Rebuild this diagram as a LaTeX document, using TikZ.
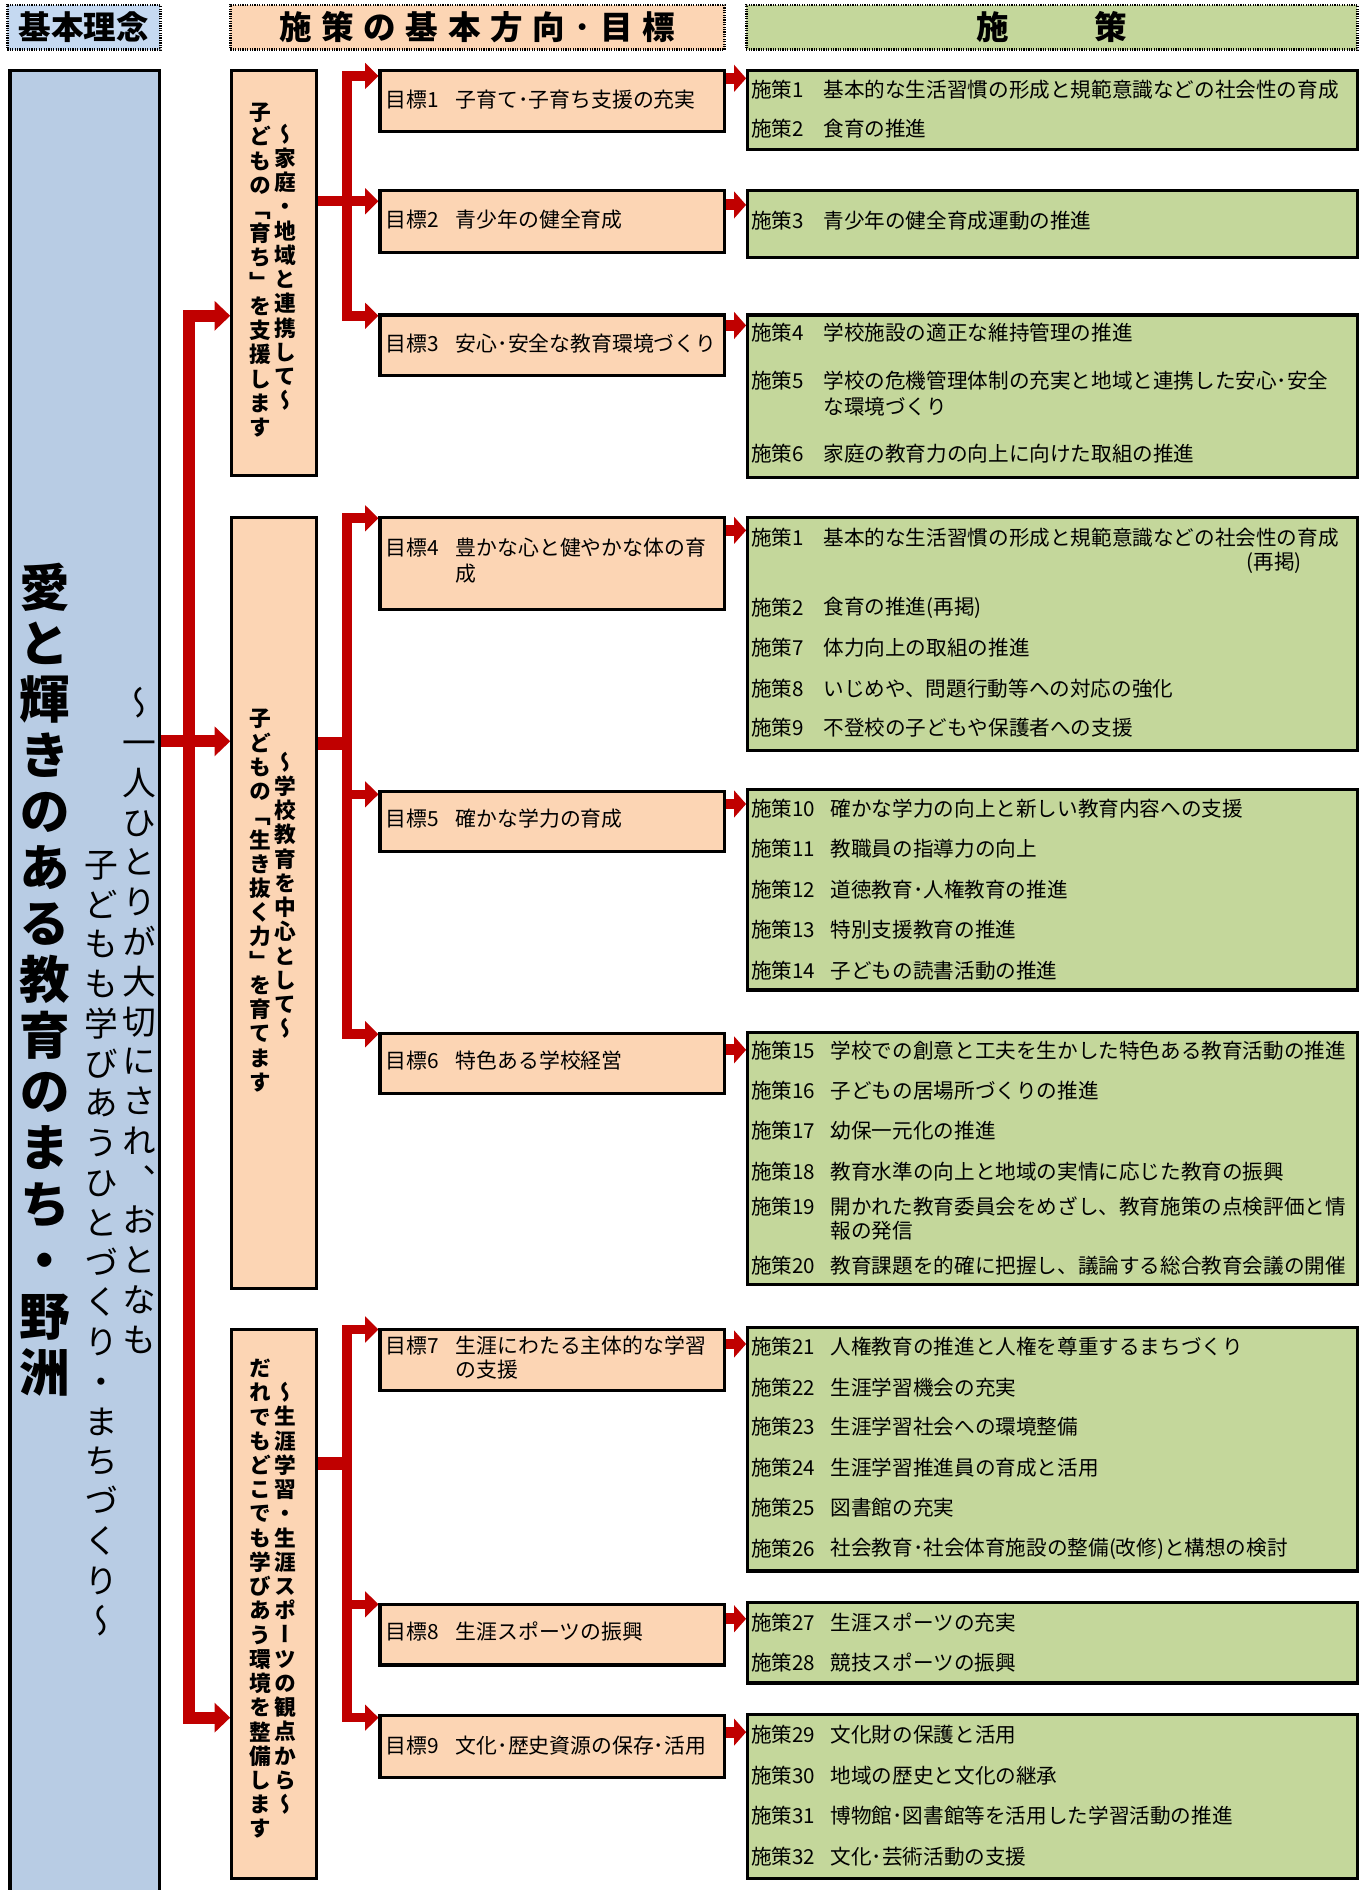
\documentclass[tikz,border=0pt]{standalone}
\usepackage{fontspec}
\setmainfont{Noto Sans CJK JP}
\newfontfamily\jpv[RawFeature=+vert]{Noto Sans CJK JP}
\usetikzlibrary{arrows.meta,backgrounds}
\definecolor{hblue}{HTML}{C5D9F1}
\definecolor{bluebox}{HTML}{B8CCE4}
\definecolor{peach}{HTML}{FCD5B4}
\definecolor{green}{HTML}{C4D79B}
\definecolor{arrowred}{HTML}{C00000}
\makeatletter
\def\vt@end{\vt@end}
\newcommand\vtext[2]{\vbox{\baselineskip=#1\relax\lineskiplimit=-\maxdimen\lineskip=0pt\vt@a#2\vt@end}}
\def\vt@a#1{\ifx#1\vt@end\else\hbox to 1em{\hss\vrule height .88em depth .12em width 0pt\relax#1\hss}\expandafter\vt@a\fi}
\makeatother
\newcommand\hsp{\hspace{8pt}}
\tikzset{
 frame/.style={draw=black, line width=2.6pt, inner sep=0pt, anchor=north west},
 hdr/.style={draw=black, line width=2.2pt, dash pattern=on 1pt off 1pt, inner sep=0pt, anchor=north west},
 trunk/.style={draw=arrowred, line width=10pt, -{Triangle[length=13pt,width=24pt]}},
 br/.style={draw=arrowred, line width=8pt, -{Triangle[length=11pt,width=21pt]}},
 stub/.style={draw=arrowred, line width=11pt},
 sm/.style={draw=arrowred, line width=9pt, -{Triangle[length=10pt,width=22pt]}},
 ptx/.style={anchor=west, inner sep=0pt, font=\fontsize{17.1}{17.1}\selectfont, execute at begin node={\vrule height .88em depth .12em width 0pt\relax}},
 gtx/.style={ptx, font=\fontsize{17.3}{17.3}\selectfont},
 vt/.style={anchor=north, inner sep=0pt},
 htx/.style={inner sep=0pt, font=\bfseries\fontsize{27}{27}\selectfont},
}
\newcommand\pl[5]{\node[ptx] (#1l) at (623,#2) {#3};\node[ptx] (#1t) at (#4,#2) {#5};}
\newcommand\gl[4]{\node[gtx] (#1l) at (320,#2) {#3};\node[gtx] (#1t) at (378,#2) {#4};}
\begin{document}
\begin{tikzpicture}[x=1pt,y=-1pt]
\useasboundingbox (0,0) rectangle (1132,1568);
% headers
\node[hdr, fill=hblue, minimum width=127pt, minimum height=37pt] (h1) at (5,3) {};
\node[hdr, fill=peach, minimum width=410pt, minimum height=37pt] (h2) at (190,3) {};
\node[hdr, fill=green, minimum width=507pt, minimum height=37pt] (h3) at (618,3) {};
\node[htx] (ht1) at (h1.center) {基本理念};
\node[htx] (ht2) at (h2.center) {施\hsp 策\hsp の\hsp 基\hsp 本\hsp 方\hsp 向\hsp ･\hsp 目\hsp 標};
\node[htx] (ht3) at (h3.center) {施\hspace{71pt}策};
% main boxes
\node[frame, fill=bluebox, minimum width=124pt, minimum height=1525pt] (blue) at (7,57) {};
\node[frame, fill=peach, minimum width=70pt, minimum height=336pt] (A) at (191,57) {};
\node[frame, fill=peach, minimum width=70pt, minimum height=640pt] (B) at (191,428) {};
\node[frame, fill=peach, minimum width=70pt, minimum height=455pt] (C) at (191,1102) {};
% goal boxes
\node[frame, fill=peach, minimum width=286pt, minimum height=51pt] (g1) at (314,57) {};
\node[frame, fill=peach, minimum width=286pt, minimum height=51pt] (g2) at (314,157) {};
\node[frame, fill=peach, minimum width=286pt, minimum height=50pt] (g3) at (314,260) {};
\node[frame, fill=peach, minimum width=286pt, minimum height=76pt] (g4) at (314,428) {};
\node[frame, fill=peach, minimum width=286pt, minimum height=50pt] (g5) at (314,655) {};
\node[frame, fill=peach, minimum width=286pt, minimum height=50pt] (g6) at (314,856) {};
\node[frame, fill=peach, minimum width=286pt, minimum height=50pt] (g7) at (314,1102) {};
\node[frame, fill=peach, minimum width=286pt, minimum height=50pt] (g8) at (314,1330) {};
\node[frame, fill=peach, minimum width=286pt, minimum height=51pt] (g9) at (314,1422) {};
% policy boxes
\node[frame, fill=green, minimum width=506pt, minimum height=66pt] (p1) at (619,57) {};
\node[frame, fill=green, minimum width=506pt, minimum height=55pt] (p2) at (619,157) {};
\node[frame, fill=green, minimum width=506pt, minimum height=135pt] (p3) at (619,260) {};
\node[frame, fill=green, minimum width=506pt, minimum height=193pt] (p4) at (619,428) {};
\node[frame, fill=green, minimum width=506pt, minimum height=166pt] (p5) at (619,654) {};
\node[frame, fill=green, minimum width=506pt, minimum height=209pt] (p6) at (619,855) {};
\node[frame, fill=green, minimum width=506pt, minimum height=202pt] (p7) at (619,1100) {};
\node[frame, fill=green, minimum width=506pt, minimum height=67pt] (p8) at (619,1328) {};
\node[frame, fill=green, minimum width=506pt, minimum height=136pt] (p9) at (619,1421) {};
% vertical texts
\node[vt, font=\jpv\bfseries\fontsize{42}{42}\selectfont] (ttl) at (37,466) {\vtext{46.5pt}{愛と輝きのある教育のまち・野洲}};
\node[vt, font=\jpv\fontsize{28}{28}\selectfont] (sub1) at (116,569) {\vtext{33pt}{～一人ひとりが大切にされ、おとなも}};
\node[vt, font=\jpv\fontsize{28}{28}\selectfont] (sub2) at (84,703) {\vtext{33pt}{子どもも学びあうひとづくり・まちづくり～}};
\node[vt, font=\jpv\bfseries\fontsize{18}{18}\selectfont] (aR) at (237,102) {\vtext{20.1pt}{～家庭・地域と連携して～}};
\node[vt, font=\jpv\bfseries\fontsize{18}{18}\selectfont] (aL) at (216,84) {\vtext{20.1pt}{子どもの「育ち」を支援します}};
\node[vt, font=\jpv\bfseries\fontsize{18}{18}\selectfont] (bR) at (237,623) {\vtext{20.1pt}{～学校教育を中心として～}};
\node[vt, font=\jpv\bfseries\fontsize{18}{18}\selectfont] (bL) at (216,587) {\vtext{20.1pt}{子どもの「生き抜く力」を育てます}};
\node[vt, font=\jpv\bfseries\fontsize{18}{18}\selectfont] (cR) at (237,1146) {\vtext{20.1pt}{～生涯学習・生涯スポーツの観点から～}};
\node[vt, font=\jpv\bfseries\fontsize{18}{18}\selectfont] (cL) at (216,1126) {\vtext{20.1pt}{だれでもどこでも学びあう環境を整備します}};
% goal texts
\gl{t1}{83}{目標1}{子育て･子育ち支援の充実}
\gl{t2}{182}{目標2}{青少年の健全育成}
\gl{t3}{285}{目標3}{安心･安全な教育環境づくり}
\gl{t4}{454}{目標4}{豊かな心と健やかな体の育}
\node[gtx] (t4b) at (378,476) {成};
\gl{t5}{679}{目標5}{確かな学力の育成}
\gl{t6}{880}{目標6}{特色ある学校経営}
\gl{t7}{1116}{目標7}{生涯にわたる主体的な学習}
\node[gtx] (t7b) at (378,1136) {の支援};
\gl{t8}{1354}{目標8}{生涯スポーツの振興}
\gl{t9}{1448}{目標9}{文化･歴史資源の保存･活用}
% policy texts
\pl{s1}{74}{施策1}{683}{基本的な生活習慣の形成と規範意識などの社会性の育成}
\pl{s2}{107}{施策2}{683}{食育の推進}
\pl{s3}{183}{施策3}{683}{青少年の健全育成運動の推進}
\pl{s4}{276}{施策4}{683}{学校施設の適正な維持管理の推進}
\pl{s5}{316}{施策5}{683}{学校の危機管理体制の充実と地域と連携した安心･安全}
\node[ptx] (s5b) at (683,337) {な環境づくり};
\pl{s6}{376}{施策6}{683}{家庭の教育力の向上に向けた取組の推進}
\pl{r1}{446}{施策1}{683}{基本的な生活習慣の形成と規範意識などの社会性の育成}
\node[ptx] (r1b) at (1034,467) {(再掲)};
\pl{r2}{504}{施策2}{683}{食育の推進(再掲)}
\pl{s7}{537}{施策7}{683}{体力向上の取組の推進}
\pl{s8}{571}{施策8}{683}{いじめや、問題行動等への対応の強化}
\pl{s9}{604}{施策9}{683}{不登校の子どもや保護者への支援}
\pl{s10}{671}{施策10}{689}{確かな学力の向上と新しい教育内容への支援}
\pl{s11}{704}{施策11}{689}{教職員の指導力の向上}
\pl{s12}{738}{施策12}{689}{道徳教育･人権教育の推進}
\pl{s13}{771}{施策13}{689}{特別支援教育の推進}
\pl{s14}{805}{施策14}{689}{子どもの読書活動の推進}
\pl{s15}{872}{施策15}{689}{学校での創意と工夫を生かした特色ある教育活動の推進}
\pl{s16}{905}{施策16}{689}{子どもの居場所づくりの推進}
\pl{s17}{938}{施策17}{689}{幼保一元化の推進}
\pl{s18}{972}{施策18}{689}{教育水準の向上と地域の実情に応じた教育の振興}
\pl{s19}{1001}{施策19}{689}{開かれた教育委員会をめざし、教育施策の点検評価と情}
\node[ptx] (s19b) at (689,1021) {報の発信};
\pl{s20}{1050}{施策20}{689}{教育課題を的確に把握し、議論する総合教育会議の開催}
\pl{s21}{1117}{施策21}{689}{人権教育の推進と人権を尊重するまちづくり}
\pl{s22}{1151}{施策22}{689}{生涯学習機会の充実}
\pl{s23}{1184}{施策23}{689}{生涯学習社会への環境整備}
\pl{s24}{1218}{施策24}{689}{生涯学習推進員の育成と活用}
\pl{s25}{1251}{施策25}{689}{図書館の充実}
\pl{s26}{1285}{施策26}{689}{社会教育･社会体育施設の整備(改修)と構想の検討}
\pl{s27}{1346}{施策27}{689}{生涯スポーツの充実}
\pl{s28}{1379}{施策28}{689}{競技スポーツの振興}
\pl{s29}{1439}{施策29}{689}{文化財の保護と活用}
\pl{s30}{1473}{施策30}{689}{地域の歴史と文化の継承}
\pl{s31}{1506}{施策31}{689}{博物館･図書館等を活用した学習活動の推進}
\pl{s32}{1540}{施策32}{689}{文化･芸術活動の支援}
% connectors
\begin{scope}[on background layer]
\coordinate (j0) at (157,615);
\draw[trunk] (blue.east |- 0,615) -- (B.west |- 0,615);
\draw[trunk] (j0) |- (A.west |- 0,262);
\draw[trunk] (j0) |- (C.west |- 0,1425);
\coordinate (jA) at (288,167);
\draw[br] (A.east |- 0,167) -- (g2.west |- 0,167);
\draw[br] (jA) |- (g1.west |- 0,63);
\draw[br] (jA) |- (g3.west |- 0,262);
\coordinate (jB) at (292,617);
\draw[stub] (B.east |- 0,617) -- (jB);
\draw[br] (jB) ++(-4,0) |- (g4.west |- 0,430);
\draw[br] (jB) ++(-4,0) |- (g5.west |- 0,659);
\draw[br] (jB) ++(-4,0) |- (g6.west |- 0,858);
\coordinate (jC) at (292,1214);
\draw[stub] (C.east |- 0,1214) -- (jC);
\draw[br] (jC) ++(-4,0) |- (g7.west |- 0,1103);
\draw[br] (jC) ++(-4,0) |- (g8.west |- 0,1331);
\draw[br] (jC) ++(-4,0) |- (g9.west |- 0,1425);
\draw[sm] (g1.east |- 0,65) -- (p1.west |- 0,65);
\draw[sm] (g2.east |- 0,170) -- (p2.west |- 0,170);
\draw[sm] (g3.east |- 0,270) -- (p3.west |- 0,270);
\draw[sm] (g4.east |- 0,440) -- (p4.west |- 0,440);
\draw[sm] (g5.east |- 0,667) -- (p5.west |- 0,667);
\draw[sm] (g6.east |- 0,871) -- (p6.west |- 0,871);
\draw[sm] (g7.east |- 0,1115) -- (p7.west |- 0,1115);
\draw[sm] (g8.east |- 0,1343) -- (p8.west |- 0,1343);
\draw[sm] (g9.east |- 0,1437) -- (p9.west |- 0,1437);
\end{scope}
\end{tikzpicture}
\end{document}
